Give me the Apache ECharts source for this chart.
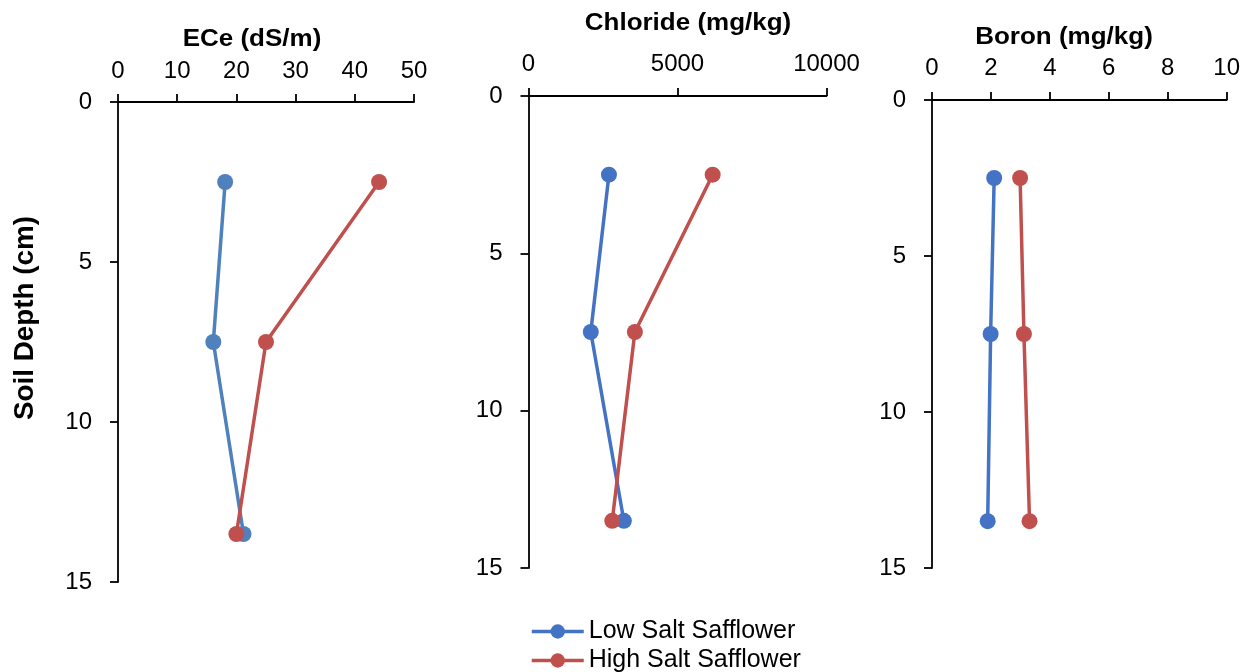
<!DOCTYPE html>
<html><head><meta charset="utf-8">
<script src="https://cdn.jsdelivr.net/npm/echarts@6/dist/echarts.min.js"></script>
<style>html,body{margin:0;padding:0;background:#fff}#c{width:1243px;height:672px}</style>
</head><body><div id="c"></div>
<script>
const depths = [2.5, 7.5, 13.5];
const eceLow = [18.1, 16.1, 21.2];
const eceHigh = [44.1, 25.0, 20.0];
const clLow = [2700, 2090, 3200];
const clHigh = [6180, 3570, 2810];
const bLow = [2.11, 1.99, 1.89];
const bHigh = [2.99, 3.12, 3.31];
const depthTicks = [0, 5, 10, 15];
const seriesNames = ['Low Salt Safflower', 'High Salt Safflower'];
const panelTitles = ['ECe (dS/m)', 'Chloride (mg/kg)', 'Boron (mg/kg)'];
const yTitle = 'Soil Depth (cm)';

const FONT = 'Liberation Sans, Arial, sans-serif';
const pair = (xs) => xs.map((v, i) => [v, depths[i]]);

const grids = [
  {left: 118, top: 102, width: 296, height: 480},
  {left: 528.5, top: 96, width: 298, height: 472},
  {left: 932, top: 100, width: 296, height: 468}
];
const xRanges = [[0, 50, 10], [0, 10000, 5000], [0, 10, 2]];
const xMargins = [19, 20, 20];
const axisLine = {show: true, lineStyle: {color: '#000', width: 1.8}};
const axisTick = {show: true, length: 8, lineStyle: {color: '#000', width: 1.8}};

const xAxis = xRanges.map((r, i) => ({
  type: 'value', gridIndex: i, position: 'top', min: r[0], max: r[1], interval: r[2],
  axisLine, axisTick, splitLine: {show: false},
  axisLabel: {fontSize: 24, color: '#000', fontFamily: FONT, margin: xMargins[i],
    showMaxLabel: true, formatter: (v) => String(v)}
}));
const yAxis = grids.map((g, i) => ({
  type: 'value', gridIndex: i, inverse: true, min: depthTicks[0], max: depthTicks[3], interval: 5,
  axisLine: Object.assign({onZero: false}, axisLine), axisTick, splitLine: {show: false},
  axisLabel: {fontSize: 24, color: '#000', fontFamily: FONT, margin: 26}
}));

function mk(name, data, color, idx) {
  return {
    name, type: 'line', xAxisIndex: idx, yAxisIndex: idx, data: pair(data),
    symbol: 'circle', symbolSize: 16, lineStyle: {width: 3.5, color},
    itemStyle: {color}, animation: false, z: name === seriesNames[1] ? 3 : 2
  };
}
const BLUE = '#4472C4', BLUE1 = '#4F81BD', RED = '#C0504D';
const series = [
  mk(seriesNames[0], clLow, BLUE, 1),
  mk(seriesNames[1], clHigh, RED, 1),
  mk(seriesNames[0], eceLow, BLUE1, 0),
  mk(seriesNames[1], eceHigh, RED, 0),
  mk(seriesNames[0], bLow, BLUE, 2),
  mk(seriesNames[1], bHigh, RED, 2)
];

const titlePos = [[252, 40], [688, 24], [1064, 38]];
const graphic = panelTitles.map((t, i) => ({
  type: 'text', x: titlePos[i][0], y: titlePos[i][1], scaleX: 1.13,
  style: {text: t, font: 'bold 23px ' + FONT, fill: '#000', align: 'center', verticalAlign: 'middle'}
}));
graphic.push({
  type: 'text', x: 26, y: 318, rotation: Math.PI / 2, scaleX: 1.03,
  style: {text: yTitle, font: 'bold 27px ' + FONT, fill: '#000', align: 'center', verticalAlign: 'middle'}
});

const chart = echarts.init(document.getElementById('c'));
chart.setOption({
  backgroundColor: '#fff',
  animation: false,
  grid: grids,
  xAxis, yAxis, series, graphic,
  legend: {
    data: seriesNames, orient: 'vertical', left: 530, top: 619, height: 80, padding: 0,
    itemWidth: 52, itemHeight: 18, itemGap: 4,
    lineStyle: {width: 3.5},
    textStyle: {fontSize: 25, color: '#000', fontFamily: FONT, lineHeight: 24}
  }
});
</script></body></html>
